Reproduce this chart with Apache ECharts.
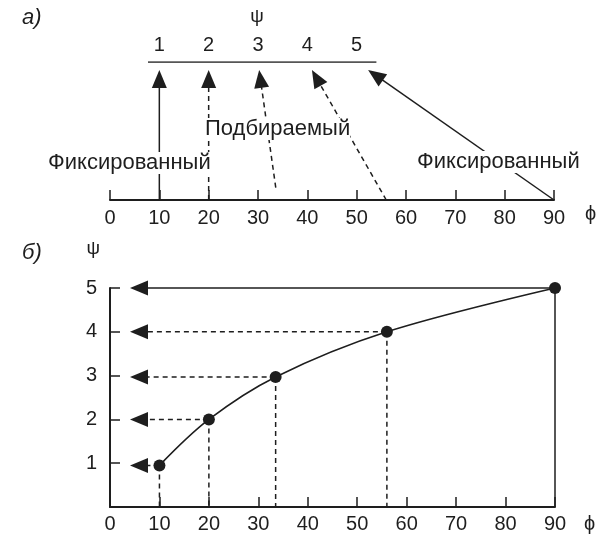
<!DOCTYPE html>
<html><head><meta charset="utf-8">
<script src="https://cdn.jsdelivr.net/npm/echarts@6/dist/echarts.min.js"></script>
<style>html,body{margin:0;padding:0;background:#fff}#c{width:599px;height:536px}</style>
</head><body><div id="c"></div>
<script>
// ---- data ----
const phiTicks = [0, 10, 20, 30, 40, 50, 60, 70, 80, 90];
const psiTicks = [1, 2, 3, 4, 5];
const psiTickPhi = [10, 20, 30, 40, 50];      // where the ψ labels sit over the ϕ scale (panel а)
const psiLineSpan = [7.7, 54];                // extent of the ψ scale line (panel а)
const topArrowStartPhi = [10, 20, 33.6, 56, 90];
const topArrowStartLevel = [0, 0, 0.09, 0, 0];
const topArrowKind = ['fixed', 'chosen', 'chosen', 'chosen', 'fixed'];
const curvePhi = [10, 20, 33.5, 56, 90];
const curvePsi = [0.95, 2, 2.97, 4, 5];
const labelFixed = 'Фиксированный';
const labelChosen = 'Подбираемый';

// ---- drawing ----
const INK = '#1e1e1e';
const FONT = '"Liberation Sans", Arial, sans-serif';
const DASH = [5, 4];

function arrow(x0, y0, x1, y1, dashed) {
  const headLen = 18, headHalf = 7.5;
  const dx = x1 - x0, dy = y1 - y0, L = Math.hypot(dx, dy);
  const ux = dx / L, uy = dy / L;
  const bx = x1 - ux * headLen, by = y1 - uy * headLen;
  const px = -uy, py = ux;
  return [
    { type: 'line', shape: { x1: x0, y1: y0, x2: bx + ux * 2, y2: by + uy * 2 },
      style: { stroke: INK, lineWidth: 1.5, lineDash: dashed ? DASH : null } },
    { type: 'polygon', shape: { points: [[x1, y1], [bx + px * headHalf, by + py * headHalf], [bx - px * headHalf, by - py * headHalf]] },
      style: { fill: INK } }
  ];
}

const topArrowData = topArrowStartPhi.map((p, i) => [p, topArrowStartLevel[i], psiTickPhi[i], i]);
const bottomData = curvePhi.map((p, i) => [p, curvePsi[i], i]);

const axisCommon = {
  axisLine: { show: true, lineStyle: { color: INK, width: 2 } },
  axisTick: { show: true, inside: true, length: 10, lineStyle: { color: INK, width: 1.5 } },
  axisLabel: { color: INK, fontSize: 20, fontFamily: FONT },
  splitLine: { show: false }
};

const option = {
  backgroundColor: '#fff',
  animation: false,
  grid: [
    { left: 110, top: 62, width: 444, height: 138 },
    { left: 110, top: 288, width: 445, height: 219 }
  ],
  xAxis: [
    Object.assign({}, axisCommon, {
      type: 'value', gridIndex: 0, min: 0, max: 90, interval: 10,
      name: 'ϕ', nameLocation: 'end', nameGap: 31,
      nameTextStyle: { color: INK, fontSize: 20, fontFamily: FONT, verticalAlign: 'top', padding: [4, 0, 0, 0] },
      axisLabel: { color: INK, fontSize: 20, fontFamily: FONT, margin: 8 }
    }),
    {
      type: 'value', gridIndex: 0, position: 'top', min: 0, max: 90, interval: 10,
      axisLine: { show: false }, axisTick: { show: false }, splitLine: { show: false },
      axisLabel: { color: INK, fontSize: 20, fontFamily: FONT, margin: 7,
        formatter: v => { const i = psiTickPhi.indexOf(v); return i >= 0 ? String(psiTicks[i]) : ''; } }
    },
    Object.assign({}, axisCommon, {
      type: 'value', gridIndex: 1, min: 0, max: 90, interval: 10,
      name: 'ϕ', nameLocation: 'end', nameGap: 29,
      nameTextStyle: { color: INK, fontSize: 20, fontFamily: FONT, verticalAlign: 'top', padding: [7, 0, 0, 0] },
      axisLabel: { color: INK, fontSize: 20, fontFamily: FONT, margin: 7 }
    })
  ],
  yAxis: [
    { type: 'value', gridIndex: 0, min: 0, max: 1, show: false },
    Object.assign({}, axisCommon, {
      type: 'value', gridIndex: 1, min: 0, max: 5, interval: 1,
      name: 'ψ', nameLocation: 'end', nameGap: 30,
      nameTextStyle: { color: INK, fontSize: 19, fontFamily: FONT, align: 'right', padding: [0, 10, 0, 0] },
      axisLabel: { color: INK, fontSize: 20, fontFamily: FONT, margin: 13,
        formatter: v => (v === 0 ? '' : String(v)) }
    })
  ],
  series: [
    { type: 'line', xAxisIndex: 0, yAxisIndex: 0, symbol: 'none',
      data: [[psiLineSpan[0], 1], [psiLineSpan[1], 1]],
      lineStyle: { color: INK, width: 1.7 }, z: 3 },
    { type: 'custom', xAxisIndex: 0, yAxisIndex: 0, data: topArrowData, z: 4,
      renderItem: (params, api) => {
        const p0 = api.coord([api.value(0), api.value(1)]);
        const p1 = api.coord([api.value(2), 1]);
        const gap = 8;
        const t = (p0[1] - p1[1] - gap) / (p0[1] - p1[1]);
        const tx = p0[0] + (p1[0] - p0[0]) * t, ty = p0[1] + (p1[1] - p0[1]) * t;
        const dashed = topArrowKind[api.value(3)] !== 'fixed';
        return { type: 'group', children: arrow(p0[0], p0[1], tx, ty, dashed) };
      } },
    { type: 'custom', xAxisIndex: 2, yAxisIndex: 1, data: bottomData, z: 4,
      renderItem: (params, api) => {
        const phi = api.value(0), psi = api.value(1), i = api.value(2);
        const p = api.coord([phi, psi]);
        const base = api.coord([phi, 0]);
        const ax = api.coord([0, psi]);
        const dashed = i !== bottomData.length - 1;
        const kids = [
          { type: 'line', shape: { x1: p[0], y1: p[1], x2: base[0], y2: base[1] },
            style: { stroke: INK, lineWidth: 1.5, lineDash: dashed ? DASH : null } }
        ].concat(arrow(p[0], p[1], ax[0] + 20, p[1], dashed));
        return { type: 'group', children: kids };
      } },
    { type: 'line', xAxisIndex: 2, yAxisIndex: 1, smooth: 0.35,
      data: curvePhi.map((p, i) => [p, curvePsi[i]]),
      symbol: 'circle', symbolSize: 12, showSymbol: true,
      itemStyle: { color: INK }, lineStyle: { color: INK, width: 1.6 }, z: 6 }
  ],
  graphic: [
    { type: 'text', x: 22, y: 18, z: 100, style: { text: 'а)', fontSize: 22, fontStyle: 'italic', fontFamily: FONT, fill: INK, verticalAlign: 'middle' } },
    { type: 'text', x: 22, y: 253, z: 100, style: { text: 'б)', fontSize: 22, fontStyle: 'italic', fontFamily: FONT, fill: INK, verticalAlign: 'middle' } },
    { type: 'text', x: 257, y: 17, z: 100, style: { text: 'ψ', fontSize: 19, fontFamily: FONT, fill: INK, align: 'center', verticalAlign: 'middle' } },
    { type: 'text', x: 48, y: 163, z: 100, style: { text: labelFixed, fontSize: 22, fontFamily: FONT, fill: INK, verticalAlign: 'middle', backgroundColor: '#fff' } },
    { type: 'text', x: 205, y: 129, z: 100, style: { text: labelChosen, fontSize: 22, fontFamily: FONT, fill: INK, verticalAlign: 'middle', backgroundColor: '#fff' } },
    { type: 'text', x: 417, y: 162, z: 100, style: { text: labelFixed, fontSize: 22, fontFamily: FONT, fill: INK, verticalAlign: 'middle', backgroundColor: '#fff' } }
  ]
};
echarts.init(document.getElementById('c')).setOption(option);
</script>
</body></html>
